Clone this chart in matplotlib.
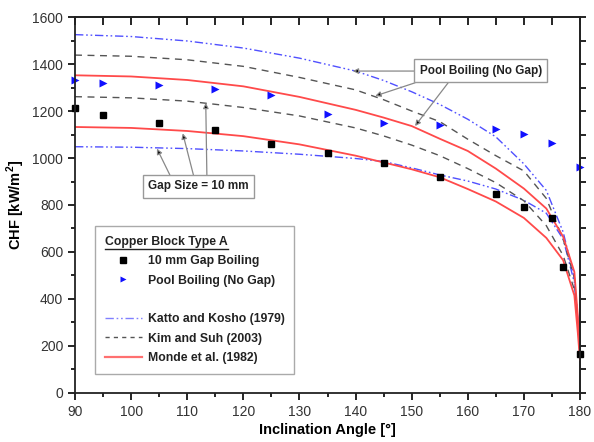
import numpy as np
import matplotlib
matplotlib.use("Agg")
import matplotlib.pyplot as plt
from matplotlib.lines import Line2D

plt.rcParams['font.family'] = ['Liberation Sans', 'DejaVu Sans']
plt.rcParams['mathtext.fontset'] = 'custom'
plt.rcParams['mathtext.rm'] = 'Liberation Sans:bold'
plt.rcParams['mathtext.bf'] = 'Liberation Sans:bold'

# measured data (Copper Block Type A)
ang_gap = [90, 95, 105, 115, 125, 135, 145, 155, 165, 170, 175, 177, 180]
chf_gap = [1212, 1184, 1150, 1118, 1060, 1021, 978, 920, 847, 791, 746, 538, 165]
ang_pool = [90, 95, 105, 115, 125, 135, 145, 155, 165, 170, 175, 180]
chf_pool = [1331, 1320, 1311, 1292, 1268, 1189, 1150, 1139, 1122, 1103, 1064, 963]

# correlation curves
ang_c = [90, 100, 110, 120, 130, 140, 145, 150, 155, 160, 165, 170, 174, 177, 179, 179.6, 180]
katto_pool = [1525, 1517, 1498, 1468, 1425, 1370, 1330, 1282, 1228, 1165, 1090, 975, 862, 685, 490, 320, 170]
katto_gap = [1048, 1046, 1040, 1030, 1016, 998, 985, 958, 928, 902, 868, 820, 765, 655, 470, 300, 160]
kim_pool = [1438, 1433, 1418, 1390, 1343, 1290, 1248, 1200, 1155, 1080, 1010, 945, 828, 655, 490, 310, 170]
kim_gap = [1261, 1256, 1242, 1215, 1179, 1128, 1094, 1055, 1010, 955, 895, 818, 712, 585, 440, 300, 165]
monde_pool = [1352, 1347, 1332, 1305, 1260, 1205, 1172, 1136, 1082, 1030, 955, 870, 785, 665, 515, 330, 180]
monde_gap = [1132, 1128, 1115, 1093, 1058, 1010, 981, 952, 918, 868, 815, 745, 660, 565, 415, 260, 140]

fig = plt.figure(figsize=(5.94, 4.42), dpi=100)
ax = fig.add_axes([0.1263, 0.1109, 0.8501, 0.8506])

kcol = '#5050ff'
kdash = (6, 2, 1.2, 2, 1.2, 2)
gcol = '#555555'
rcol = '#ff4a4a'

ax.plot(ang_c, katto_pool, color=kcol, lw=1.0, dashes=kdash)
ax.plot(ang_c, katto_gap, color=kcol, lw=1.0, dashes=kdash)
ax.plot(ang_c, kim_pool, color=gcol, lw=1.0, dashes=(5, 4))
ax.plot(ang_c, kim_gap, color=gcol, lw=1.0, dashes=(5, 4))
ax.plot(ang_c, monde_pool, color=rcol, lw=1.3)
ax.plot(ang_c, monde_gap, color=rcol, lw=1.3)

ax.plot(ang_gap, chf_gap, 's', color='k', ms=4.2, clip_on=False)
ax.plot(ang_pool, chf_pool, '>', color='#1010ff', ms=6, mec='none', clip_on=False)

ax.set_xlim(90, 180)
ax.set_ylim(0, 1600)
ax.set_xticks(np.arange(90, 181, 10))
ax.set_xticks(np.arange(95, 180, 10), minor=True)
ax.set_yticks(np.arange(0, 1601, 200))
ax.set_yticks(np.arange(100, 1600, 200), minor=True)

tc = '#333333'
ax.tick_params(axis='both', which='major', direction='out', length=5, width=1.2,
               labelsize=10, labelcolor=tc)
ax.tick_params(axis='both', which='minor', direction='out', length=3, width=1.2)

# mirrored axes: top ticks inward, right ticks outward
sec_x = ax.secondary_xaxis('top')
sec_x.set_xticks(np.arange(90, 181, 5))
sec_x.tick_params(direction='in', length=6, width=1.2, labeltop=False)
sec_y = ax.secondary_yaxis('right')
sec_y.set_yticks(np.arange(0, 1601, 100))
sec_y.tick_params(direction='out', length=4, width=1.2, labelright=False)
for s in list(ax.spines.values()) + [sec_x.spines['top'], sec_y.spines['right']]:
    s.set_linewidth(1.3)
    s.set_color('#222222')

ax.set_xlabel('Inclination Angle [°]', fontsize=10.5, fontweight='bold', labelpad=3)
ax.set_ylabel('CHF [kW/m$^2$]', fontsize=10.5, fontweight='bold', labelpad=4)

# annotations
arr = dict(arrowstyle='-|>', ec='#888888', fc='k', lw=0.9, mutation_scale=8,
           shrinkA=0, shrinkB=0)
bbox = dict(boxstyle='square,pad=0.45', fc='white', ec='#999999', lw=1.0)
ax.annotate('', xy=(104.6, 1040), xytext=(106.9, 928), arrowprops=arr)
ax.annotate('', xy=(109.2, 1105), xytext=(111.1, 928), arrowprops=arr)
ax.annotate('', xy=(113.3, 1235), xytext=(113.5, 928), arrowprops=arr)
ax.text(112.0, 880, 'Gap Size = 10 mm', ha='center', va='center', fontsize=8.5,
        fontweight='bold', color='#222222', bbox=bbox, zorder=5)

ax.annotate('', xy=(139.5, 1370), xytext=(151.0, 1370), arrowprops=arr)
ax.annotate('', xy=(143.5, 1264), xytext=(150.6, 1320), arrowprops=arr)
ax.annotate('', xy=(150.6, 1136), xytext=(156.5, 1320), arrowprops=arr)
ax.text(162.3, 1372, 'Pool Boiling (No Gap)', ha='center', va='center', fontsize=8.5,
        fontweight='bold', color='#222222', bbox=bbox, zorder=5)

handles = [
    Line2D([], [], marker='s', color='k', ls='none', ms=4),
    Line2D([], [], marker='>', color='#1010ff', ls='none', ms=5, mec='none'),
    Line2D([], [], ls='none'),
    Line2D([], [], color='#8080ff', lw=1.0, dashes=kdash),
    Line2D([], [], color=gcol, lw=1.0, dashes=(3, 3)),
    Line2D([], [], color='#ff7070', lw=1.6),
]
labels = ['10 mm Gap Boiling', 'Pool Boiling (No Gap)', ' ',
          'Katto and Kosho (1979)', 'Kim and Suh (2003)', 'Monde et al. (1982)']
leg = ax.legend(handles, labels, loc='lower left', bbox_to_anchor=(0.028, 0.035),
                frameon=True, fancybox=False, edgecolor='#aaaaaa', framealpha=1,
                title='Copper Block Type A', alignment='left', handlelength=3.0,
                handletextpad=0.5, labelspacing=0.6, borderpad=0.8,
                prop={'size': 8.8, 'weight': 'bold'},
                title_fontproperties={'size': 8.8, 'weight': 'bold'})
for t in leg.get_texts():
    t.set_color('#222222')
leg.get_title().set_color('#222222')
leg.get_frame().set_linewidth(1.0)

# underline the legend title
fig.canvas.draw()
tb = leg.get_title().get_window_extent()
inv = fig.transFigure.inverted()
(x0, y0), (x1, _) = inv.transform([(tb.x0, tb.y0 - 1), (tb.x1, tb.y0 - 1)])
fig.add_artist(Line2D([x0, x1], [y0, y0], color='#222222', lw=1.0))

fig.savefig('out.png', dpi=100)
